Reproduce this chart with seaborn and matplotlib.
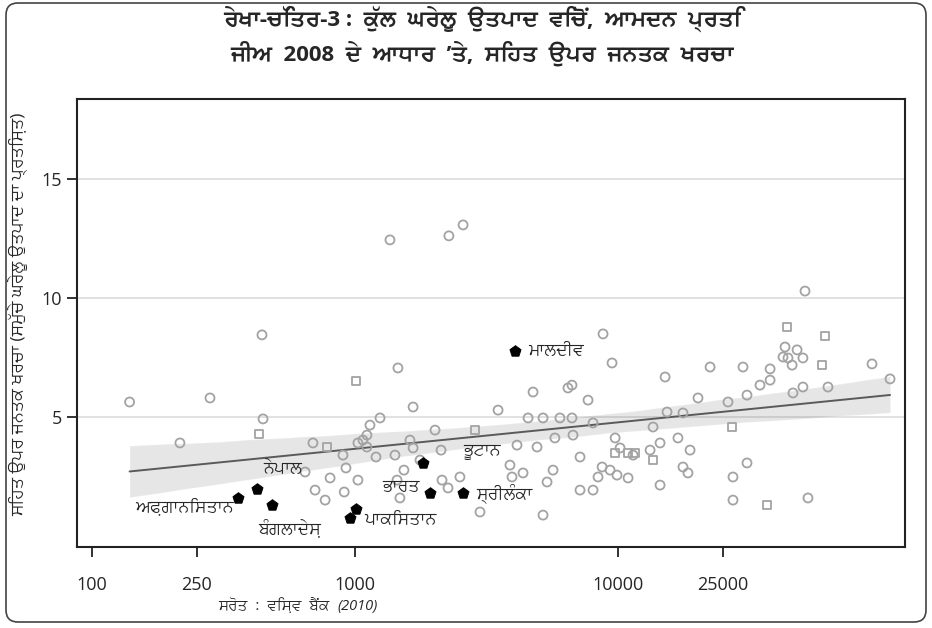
import numpy as np
import pandas as pd
import seaborn as sns
import matplotlib.pyplot as plt
from matplotlib import font_manager
from matplotlib.patches import FancyBboxPatch
from matplotlib.transforms import IdentityTransform
from fontTools.ttLib import TTFont

# GDP per capita (US$, 2008) and public spending on health (% of GDP)
gdp_other = [139, 281, 216, 443, 447, 692, 1026, 1072, 1110, 1110, 705, 770, 646, 804,
             900, 924, 1140, 1245, 1456, 1202, 1419, 1535, 1618, 1663, 1663, 1358, 2275,
             2576, 2124, 2142, 2258, 1482, 1445, 2015, 1767, 1026, 910, 2506, 2987, 3499,
             3883, 3953, 4130, 4354, 4550, 4753, 4922, 5187, 5187, 5372, 5662, 5754, 6013,
             6452, 6683, 6683, 6743, 7171, 7171, 7691, 8035, 8035, 8395, 8770, 9490, 10180,
             11410, 13240, 14450, 15100, 15360, 22390, 29870, 37860, 51400, 43150, 47950,
             44290, 50470, 45910, 42400, 92400, 108200, 20140, 26190, 30930, 34660, 37860,
             46260, 50470, 62840, 17660, 13590, 14450, 16900, 18790, 9750, 9330, 9910,
             10920, 17660, 18450, 30930, 27360, 27360, 52750, 8700]
health_other = [5.63, 5.80, 3.91, 8.45, 4.92, 3.91, 3.91, 4.03, 3.74, 4.24, 1.93, 1.51, 2.69, 2.44,
                3.40, 2.86, 4.66, 4.96, 7.06, 3.32, 3.40, 2.77, 4.03, 3.70, 5.42, 12.44, 12.61,
                13.07, 3.61, 2.35, 2.02, 1.60, 2.35, 4.45, 3.19, 2.35, 1.85, 2.48, 1.01, 5.29,
                2.98, 2.48, 3.82, 2.65, 4.96, 6.05, 3.74, 4.96, 0.88, 2.27, 2.77, 4.12, 4.96,
                6.22, 6.34, 4.96, 4.24, 3.32, 1.93, 5.71, 4.75, 1.93, 2.48, 8.49, 7.27, 3.70,
                3.40, 3.61, 2.14, 6.68, 5.21, 7.10, 7.10, 7.02, 10.29, 7.94, 7.82,
                7.48, 7.48, 7.18, 7.52, 7.23, 6.60, 5.80, 5.63, 5.92, 6.34, 6.55,
                6.01, 6.26, 6.26, 5.17, 4.58, 3.91, 4.12, 3.61, 4.12, 2.77, 2.56,
                2.44, 2.90, 2.65, 3.07, 2.48, 1.51, 1.60, 2.90]

gdp_sq = [431, 783, 1010, 2859, 43920, 61230, 59660, 27120, 9750, 10920, 11610, 13590, 36870]
health_sq = [4.29, 3.74, 6.51, 4.45, 8.78, 8.40, 7.18, 4.58, 3.49, 3.49, 3.49, 3.19, 1.30]

# South Asia (highlighted)
sa_names = ['ਅਫ਼ਗਾਨਿਸਤਾਨ', 'ਨੇਪਾਲ', 'ਬੰਗਲਾਦੇਸ਼', 'ਪਾਕਿਸਤਾਨ', '', 'ਭਾਰਤ', 'ਭੂਟਾਨ', 'ਮਾਲਦੀਵ', 'ਸ੍ਰੀਲੰਕਾ']
sa_gdp = [360, 425, 483, 957, 1009, 1928, 1815, 4055, 2576]
sa_health = [1.60, 1.97, 1.30, 0.76, 1.13, 1.81, 3.07, 7.77, 1.81]

x_ticks = [100, 250, 1000, 10000, 25000]
y_ticks = [5, 10, 15]

title = ('ਰੇਖਾ-ਚਿੱਤਰ-3 :  ਕੁੱਲ  ਘਰੇਲੂ  ਉਤਪਾਦ  ਵਿਚੋਂ,  ਆਮਦਨ  ਪ੍ਰਤਿ\n'
         'ਜੀਅ  2008  ਦੇ  ਆਧਾਰ  ’ਤੇ,  ਸਿਹਤ  ਉਪਰ  ਜਨਤਕ  ਖਰਚਾ')
y_label = 'ਸਿਹਤ ਉਪਰ ਜਨਤਕ ਖਰਚਾ (ਸਮੁੱਚੇ ਘਰੇਲੂ ਉਤਪਾਦ ਦਾ ਪ੍ਰਤਿਸ਼ਤ)'
source = 'ਸਰੋਤ  :  ਵਿਸ਼ਵ  ਬੈਂਕ'
source_year = '(2010)'

# label offsets in pixels (dx, dy, ha)
label_pos = {
    'ਅਫ਼ਗਾਨਿਸਤਾਨ': (-5, -8, 'right'),
    'ਨੇਪਾਲ': (6, 20, 'left'),
    'ਬੰਗਲਾਦੇਸ਼': (-14, -23, 'left'),
    'ਪਾਕਿਸਤਾਨ': (14, -2, 'left'),
    'ਭਾਰਤ': (-10, 6, 'right'),
    'ਭੂਟਾਨ': (40, 11, 'left'),
    'ਮਾਲਦੀਵ': (13, 0, 'left'),
    'ਸ੍ਰੀਲੰਕਾ': (13, -1, 'left'),
}


def find_gurmukhi_font():
    # installed fonts that have Gurmukhi glyphs, sans faces first
    found = []
    for f in font_manager.fontManager.ttflist:
        if 'CJK' in f.fname:
            continue
        try:
            cmap = TTFont(f.fname, fontNumber=0, lazy=True).getBestCmap()
            if cmap and 0x0A38 in cmap:
                found.append(f.name)
        except Exception:
            pass
    if not found:
        return None
    found = sorted(set(found), key=lambda n: ('Mono' in n, 'Sans' not in n, 'Serif' in n, n))
    return found[0]


sns.set_style('ticks')
gur = find_gurmukhi_font()
families = ['Open Sans', gur, 'DejaVu Sans'] if gur else ['Open Sans', 'DejaVu Sans']
plt.rcParams['font.family'] = families

# data frames
others = pd.DataFrame({'gdp': gdp_other, 'health': health_other})
squares = pd.DataFrame({'gdp': gdp_sq, 'health': health_sq})
south = pd.DataFrame({'gdp': sa_gdp, 'health': sa_health, 'name': sa_names})
allc = pd.concat([others, squares, south[['gdp', 'health']]], ignore_index=True)
for d in (others, squares, south, allc):
    d['lg'] = np.log10(d['gdp'])

fig = plt.figure(figsize=(9.32, 6.28), dpi=100)
ax = fig.add_axes([0.0826, 0.129, 0.8884, 0.7134])

# fitted line with confidence band
sns.regplot(data=allc, x='lg', y='health', scatter=False, ax=ax,
            color='#2a2a2a', seed=0,
            line_kws={'color': '#5a5a5a', 'lw': 1.4, 'zorder': 2})

sns.scatterplot(data=others, x='lg', y='health', ax=ax, marker='o', s=42,
                facecolor='none', edgecolor='#a3a3a3', linewidth=1.3, zorder=3)
sns.scatterplot(data=squares, x='lg', y='health', ax=ax, marker='s', s=36,
                facecolor='none', edgecolor='#a3a3a3', linewidth=1.3, zorder=3)
sns.scatterplot(data=south, x='lg', y='health', ax=ax, marker='p', s=70,
                color='black', edgecolor='black', zorder=4)

for _, r in south.iterrows():
    if r['name'] == '':
        continue
    dx, dy, ha = label_pos[r['name']]
    ax.annotate(r['name'], (r['lg'], r['health']), xytext=(dx, dy),
                textcoords='offset pixels', ha=ha, va='center', fontsize=12.5, zorder=5)

ax.set_xlim(1.943, 5.091)
ax.set_ylim(-0.46, 18.36)
ax.set_xticks(np.log10(x_ticks))
ax.set_xticklabels([str(v) for v in x_ticks])
ax.set_yticks(y_ticks)
ax.set_yticklabels([str(v) for v in y_ticks])
ax.yaxis.grid(True, color='#dedede', lw=1.3)
ax.set_axisbelow(True)
ax.set_xlabel('')
ax.set_ylabel('')
ax.tick_params(axis='both', direction='out', length=7, width=1.3, labelsize=13,
               color='#222222')
ax.tick_params(axis='x', pad=14)
for sp in ax.spines.values():
    sp.set_visible(True)
    sp.set_color('#222222')
    sp.set_linewidth(1.5)

fig.text(0.517, 0.943, title, ha='center', va='center', fontsize=16,
         fontweight='bold', linespacing=1.45)
fig.text(0.019, 0.5, y_label, rotation=90, ha='center', va='center', fontsize=12.5)
src = fig.text(0.234, 0.035, source, ha='left', va='center', fontsize=11)
ax.annotate(source_year, xy=(1, 0.5), xycoords=src, xytext=(8, 0),
            textcoords='offset pixels', ha='left', va='center',
            fontsize=10.5, style='italic', annotation_clip=False)

# rounded border around the whole figure
border = FancyBboxPatch((6, 6), 920, 619, boxstyle='round,pad=0,rounding_size=12',
                        transform=IdentityTransform(), fill=False,
                        edgecolor='#444444', lw=1.2)
fig.patches.append(border)

fig.savefig('out.png', dpi=100)
